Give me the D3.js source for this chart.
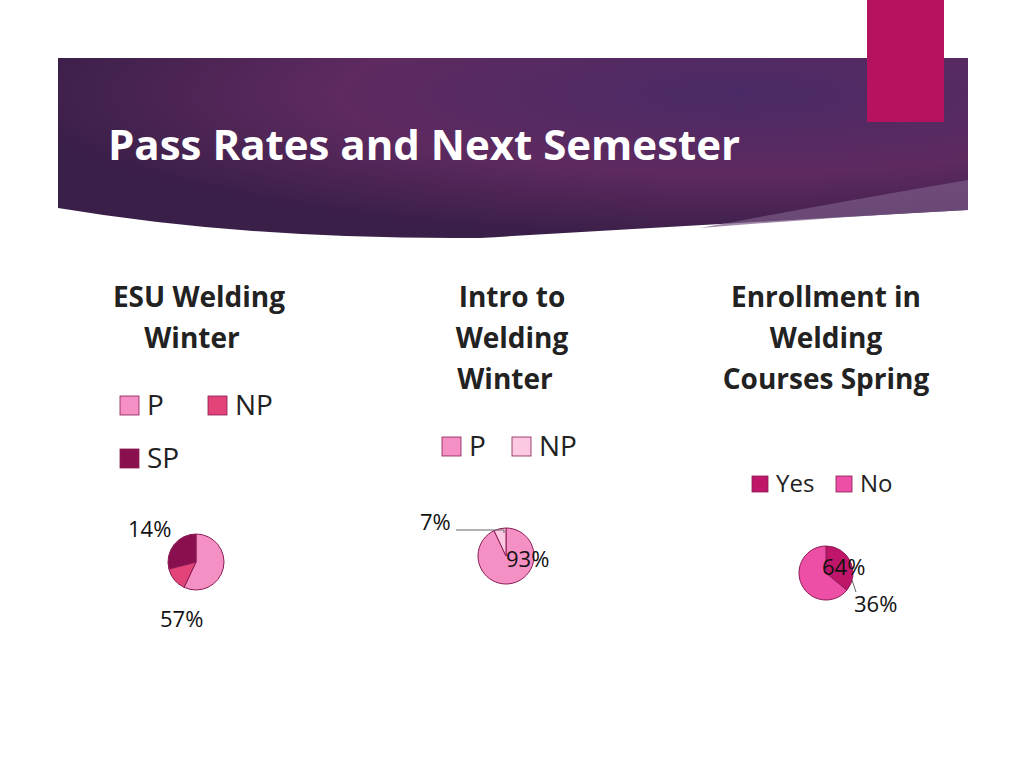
<!DOCTYPE html>
<html><head><meta charset="utf-8">
<script src="https://cdn.jsdelivr.net/npm/d3@7"></script>
<style>body{margin:0;background:#fff}svg{display:block;font-family:"Open Sans","Noto Sans",sans-serif}</style>
</head><body><svg></svg>
<script>
const width = 1024, height = 768;

// Data
const esuCats = ["P", "NP", "SP"];
const esuVals = [57, 14, 29];
const introCats = ["P", "NP"];
const introVals = [93, 7];
const enrollCats = ["Yes", "No"];
const enrollVals = [36, 64];

const svg = d3.select("svg").attr("width", width).attr("height", height);

// Header band
const defs = svg.append("defs");
const grad = defs.append("radialGradient").attr("id", "hdr")
    .attr("cx", "75%").attr("cy", "20%").attr("r", "80%");
grad.append("stop").attr("offset", "0%").attr("stop-color", "#4a2a66");
grad.append("stop").attr("offset", "55%").attr("stop-color", "#5e2a60");
grad.append("stop").attr("offset", "100%").attr("stop-color", "#3a1f48");
svg.append("path")
    .attr("d", "M58,58 L968,58 L968,210 Q700,225 480,238 Q250,240 58,208 Z")
    .attr("fill", "url(#hdr)");
svg.append("path")
    .attr("d", "M700,228 Q850,200 968,180 L968,210 Q850,216 700,228 Z")
    .attr("fill", "#7a5a86").attr("opacity", 0.7);
svg.append("rect").attr("x", 867).attr("y", 0).attr("width", 77).attr("height", 122)
    .attr("fill", "#b5135f");
svg.append("text").attr("x", 108).attr("y", 160).attr("fill", "#fff")
    .attr("font-size", 42).attr("font-weight", "bold").text("Pass Rates and Next Semester");

function drawPie(cfg) {
    const g = svg.append("g");
    g.selectAll("text.t").data(cfg.title).enter().append("text")
        .attr("x", (d, i) => cfg.tx[i]).attr("y", (d, i) => 307 + i * 41)
        .attr("font-size", 28).attr("font-weight", "bold").attr("fill", "#222")
        .attr("text-anchor", "middle").text(d => d);
    cfg.legend.forEach((l, i) => {
        const lg = g.append("g").attr("transform", `translate(${l[0]},${l[1]})`);
        lg.append("rect").attr("x", 0).attr("y", -cfg.ls).attr("width", cfg.ls).attr("height", cfg.ls)
            .attr("fill", cfg.colors[i]).attr("stroke", "#8b1a55").attr("stroke-width", 0.8);
        lg.append("text").attr("x", cfg.ls + 8).attr("y", 0).attr("font-size", cfg.lf)
            .attr("fill", "#222").text(cfg.cats[i]);
    });
    const arcs = d3.pie().sort(null)(cfg.vals);
    const arc = d3.arc().innerRadius(0).outerRadius(cfg.r);
    g.append("g").attr("transform", `translate(${cfg.cx},${cfg.cy})`)
        .selectAll("path").data(arcs).enter().append("path")
        .attr("d", arc).attr("fill", (d, i) => cfg.colors[i])
        .attr("stroke", "#8b1a55").attr("stroke-width", 1);
    cfg.labels.forEach(l => {
        if (l.line) g.append("polyline").attr("points", l.line).attr("fill", "none")
            .attr("stroke", "#666").attr("stroke-width", 1);
        g.append("text").attr("x", l.x).attr("y", l.y).attr("font-size", 22)
            .attr("fill", "#111").text(cfg.vals[l.i] + "%");
    });
}

drawPie({
    title: ["ESU Welding", "Winter"], tx: [199, 192],
    cats: esuCats, vals: esuVals, colors: ["#f590c4", "#e2447a", "#8a0f4f"],
    legend: [[120, 415], [208, 415], [120, 468]], ls: 19, lf: 28,
    cx: 196, cy: 562, r: 28,
    labels: [{i: 1, x: 128, y: 537}, {i: 0, x: 160, y: 627}]
});
drawPie({
    title: ["Intro to", "Welding", "Winter"], tx: [512, 512, 505],
    cats: introCats, vals: introVals, colors: ["#f590c4", "#fcc8e2"],
    legend: [[442, 456], [512, 456]], ls: 19, lf: 28,
    cx: 506, cy: 556, r: 28,
    labels: [{i: 1, x: 420, y: 530, line: "456,530 504,530 504,533"}, {i: 0, x: 506, y: 567}]
});
drawPie({
    title: ["Enrollment in", "Welding", "Courses Spring"], tx: [826, 826, 826],
    cats: enrollCats, vals: enrollVals, colors: ["#c0166a", "#ee4fa6"],
    legend: [[752, 492], [836, 492]], ls: 16, lf: 24,
    cx: 826, cy: 573, r: 27,
    labels: [{i: 1, x: 822, y: 575}, {i: 0, x: 854, y: 612, line: "852,580 856,592"}]
});
</script></body></html>
